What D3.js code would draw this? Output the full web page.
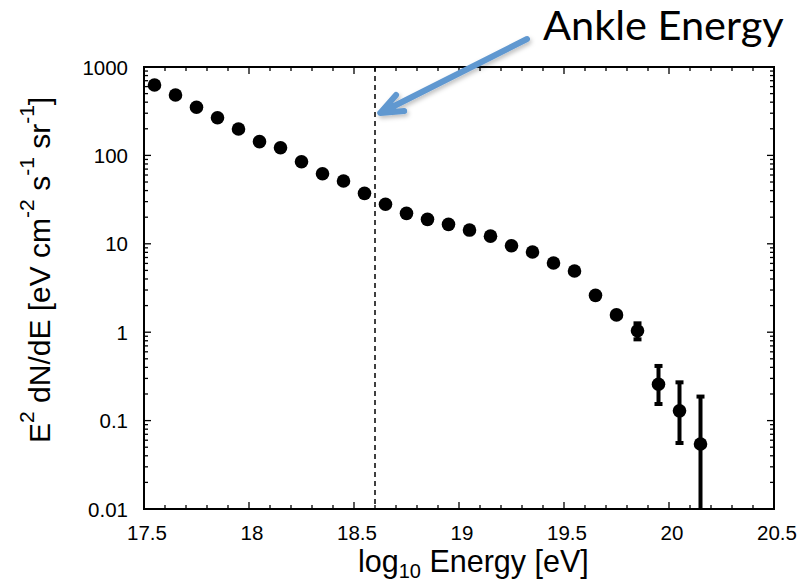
<!DOCTYPE html>
<html>
<head>
<meta charset="utf-8">
<script src="https://cdn.jsdelivr.net/npm/d3@7"></script>
<style>
  html, body { margin: 0; padding: 0; background: #fff; }
  svg { display: block; }
</style>
</head>
<body>
<svg id="chart" width="805" height="581"></svg>
<script>
// Energy bin centres, log10(E/eV)
const energyBins = [17.55, 17.65, 17.75, 17.85, 17.95, 18.05, 18.15, 18.25, 18.35,
  18.45, 18.55, 18.65, 18.75, 18.85, 18.95, 19.05, 19.15, 19.25, 19.35, 19.45,
  19.55, 19.65, 19.75, 19.85, 19.95, 20.05, 20.15];
// E^2 dN/dE in eV cm^-2 s^-1 sr^-1
const fluxValues = [626, 482, 350, 267, 199, 143, 122, 84.9, 62.1, 51.3, 37.2,
  28.0, 22.1, 18.9, 16.6, 14.3, 12.2, 9.5, 8.07, 6.07, 4.92, 2.61, 1.57, 1.04,
  0.258, 0.129, 0.0543];
// Error bars (only the highest-energy bins have visible ones)
const errorBins  = [19.85, 19.95, 20.05, 20.15];
const errorUpper = [1.26, 0.415, 0.271, 0.187];
const errorLower = [0.83, 0.154, 0.0558, 0.001];
// Axis ticks
const xTickValues = [17.5, 18, 18.5, 19, 19.5, 20, 20.5];
const xTickLabels = ["17.5", "18", "18.5", "19", "19.5", "20", "20.5"];
const yTickValues = [0.01, 0.1, 1, 10, 100, 1000];
const yTickLabels = ["0.01", "0.1", "1", "10", "100", "1000"];
// Ankle marker and its annotation
const ankleEnergy = 18.6;
const annotationText = "Ankle Energy";
const arrowFrom = [19.324, 2073];
const arrowTo = [18.625, 302];

const svg = d3.select("#chart");
const margin = { left: 144, right: 31, top: 67, bottom: 72 };
const W = 805, H = 581;
const x = d3.scaleLinear().domain([17.5, 20.5]).range([margin.left, W - margin.right]);
const y = d3.scaleLog().domain([0.01, 1000]).range([H - margin.bottom, margin.top]);
const x0 = x.range()[0], x1 = x.range()[1], y0 = y.range()[0], y1 = y.range()[1];

const tickFont = "'Liberation Sans', Arial, Helvetica, sans-serif";

svg.append("defs").append("clipPath").attr("id", "plot-clip")
  .append("rect").attr("x", x0).attr("y", y1).attr("width", x1 - x0).attr("height", y0 - y1);

// Minor / major tick positions
const xMinor = d3.range(17.5, 20.501, 0.1).map(v => +v.toFixed(2));
const yMinor = [];
for (let e = -2; e < 3; e++) for (let m = 2; m <= 9; m++) yMinor.push(m * Math.pow(10, e));

const tickG = svg.append("g").attr("stroke", "#000").attr("stroke-width", 1.3);
// x ticks on bottom and top, pointing inward
xMinor.forEach(v => {
  const major = xTickValues.some(t => Math.abs(t - v) < 1e-6);
  const len = major ? 7 : 4;
  tickG.append("line").attr("x1", x(v)).attr("x2", x(v)).attr("y1", y0).attr("y2", y0 - len);
  tickG.append("line").attr("x1", x(v)).attr("x2", x(v)).attr("y1", y1).attr("y2", y1 + len);
});
// y ticks on left and right, pointing inward
yMinor.concat(yTickValues).forEach(v => {
  const major = yTickValues.includes(v);
  const len = major ? 7 : 4;
  tickG.append("line").attr("x1", x0).attr("x2", x0 + len).attr("y1", y(v)).attr("y2", y(v));
  tickG.append("line").attr("x1", x1).attr("x2", x1 - len).attr("y1", y(v)).attr("y2", y(v));
});

// Tick labels
svg.append("g").selectAll("text").data(xTickValues).join("text")
  .attr("x", d => x(d) + 3).attr("y", y0 + 31)
  .attr("text-anchor", "middle")
  .attr("font-family", tickFont).attr("font-size", 20.5)
  .text((d, i) => xTickLabels[i]);
svg.append("g").selectAll("text").data(yTickValues).join("text")
  .attr("x", x0 - 16).attr("y", d => y(d) + 7.5)
  .attr("text-anchor", "end")
  .attr("font-family", tickFont).attr("font-size", 20.5)
  .text((d, i) => yTickLabels[i]);

// Ankle dashed line
svg.append("line")
  .attr("x1", x(ankleEnergy)).attr("x2", x(ankleEnergy))
  .attr("y1", y1).attr("y2", y0)
  .attr("stroke", "#000").attr("stroke-width", 1.5)
  .attr("stroke-dasharray", "5,4");

// Plot frame
svg.append("rect").attr("x", x0).attr("y", y1)
  .attr("width", x1 - x0).attr("height", y0 - y1)
  .attr("fill", "none").attr("stroke", "#000").attr("stroke-width", 2);

// Data
const plot = svg.append("g").attr("clip-path", "url(#plot-clip)");
const errData = errorBins.map((e, i) => ({ e, hi: errorUpper[i], lo: errorLower[i] }));
plot.append("g").selectAll("line").data(errData).join("line")
  .attr("x1", d => x(d.e)).attr("x2", d => x(d.e))
  .attr("y1", d => y(d.hi)).attr("y2", d => y(d.lo))
  .attr("stroke", "#000").attr("stroke-width", 4);
const caps = plot.append("g");
errData.forEach(d => {
  [d.hi, d.lo].forEach(v => {
    caps.append("line")
      .attr("x1", x(d.e) - 4).attr("x2", x(d.e) + 4)
      .attr("y1", y(v)).attr("y2", y(v))
      .attr("stroke", "#000").attr("stroke-width", 4);
  });
});
plot.append("g").selectAll("circle").data(energyBins).join("circle")
  .attr("cx", d => x(d)).attr("cy", (d, i) => y(fluxValues[i]))
  .attr("r", 6.8).attr("fill", "#000");

// Axis titles
const xTitle = svg.append("text")
  .attr("x", 358).attr("y", 572)
  .attr("font-family", tickFont).attr("font-size", 30.5);
xTitle.append("tspan").text("log");
xTitle.append("tspan").attr("font-size", 20).attr("dy", 6).text("10");
xTitle.append("tspan").attr("dy", -6).text(" Energy [eV]");

const yTitle = svg.append("text")
  .attr("transform", "translate(50,443) rotate(-90)")
  .attr("font-family", tickFont).attr("font-size", 30);
const ySegs = [["E", 0], ["2", 1], [" dN/dE [eV cm", 0], ["-2", 1], [" s", 0], ["-1", 1], [" sr", 0], ["-1", 1], ["]", 0]];
let raised = false;
ySegs.forEach(([t, sup]) => {
  const ts = yTitle.append("tspan").text(t);
  if (sup && !raised) { ts.attr("dy", -16).attr("font-size", 21); raised = true; }
  else if (sup) { ts.attr("font-size", 21); }
  else if (raised) { ts.attr("dy", 16); raised = false; }
});

// Annotation arrow
const defs = svg.select("defs");
const shadow = defs.append("filter").attr("id", "arrow-shadow")
  .attr("x", "-20%").attr("y", "-20%").attr("width", "140%").attr("height", "140%");
shadow.append("feDropShadow").attr("dx", 1.5).attr("dy", 2.5).attr("stdDeviation", 2)
  .attr("flood-color", "#000").attr("flood-opacity", 0.25);

const ax0 = x(arrowFrom[0]), ay0 = y(arrowFrom[1]);
const ax1 = x(arrowTo[0]), ay1 = y(arrowTo[1]);
const ang = Math.atan2(ay0 - ay1, ax0 - ax1);
const legLen = 24, spread = 22 * Math.PI / 180;
const legA = [ax1 + legLen * Math.cos(ang - spread), ay1 + legLen * Math.sin(ang - spread)];
const legB = [ax1 + legLen * Math.cos(ang + spread), ay1 + legLen * Math.sin(ang + spread)];
svg.append("path")
  .attr("d", `M${ax0},${ay0}L${ax1},${ay1}M${legA[0]},${legA[1]}L${ax1},${ay1}L${legB[0]},${legB[1]}`)
  .attr("fill", "none").attr("stroke", "#6198d0").attr("stroke-width", 6)
  .attr("stroke-linecap", "round").attr("stroke-linejoin", "round")
  .attr("filter", "url(#arrow-shadow)");

svg.append("text")
  .attr("x", 543).attr("y", 40)
  .attr("font-family", "Lato, 'Open Sans', sans-serif").attr("font-size", 41.5)
  .attr("fill", "#000")
  .text(annotationText);
</script>
</body>
</html>
